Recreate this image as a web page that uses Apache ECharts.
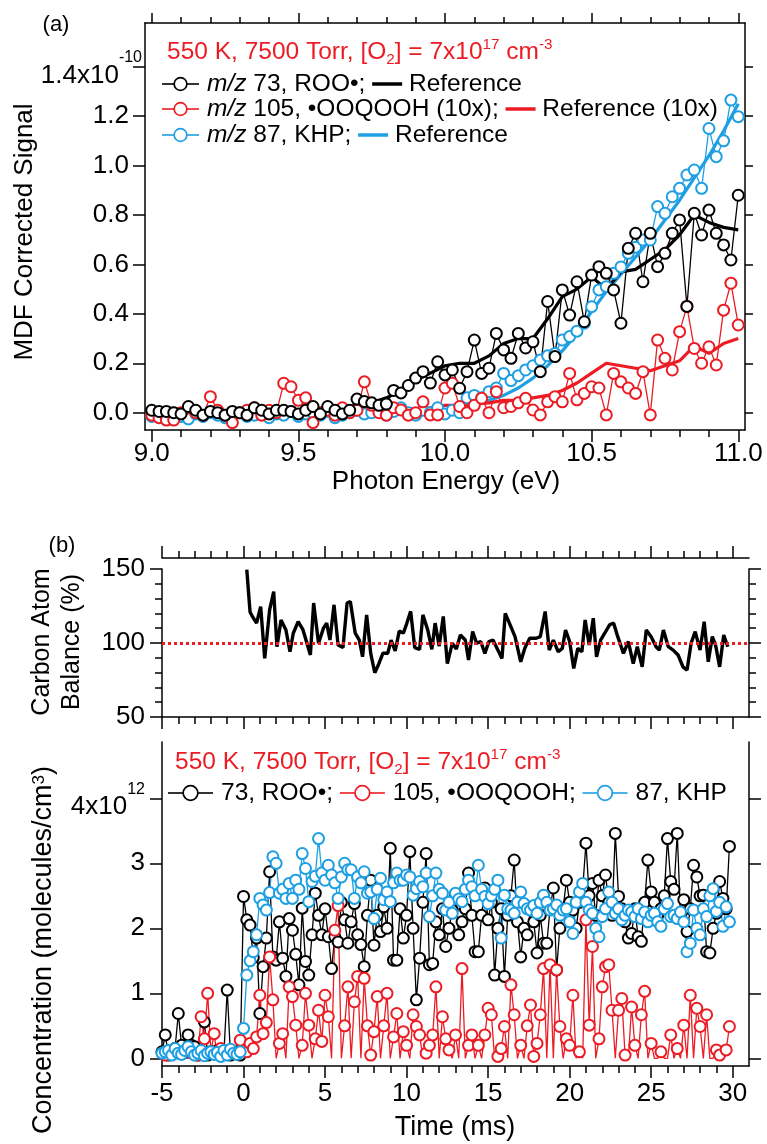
<!DOCTYPE html>
<html>
<head>
<meta charset="utf-8">
<script src="https://cdn.jsdelivr.net/npm/echarts@6/dist/echarts.min.js"></script>
<style>
  html, body { margin: 0; padding: 0; background: #fff; }
  #chart { width: 767px; height: 1144px; }
</style>
</head>
<body>
<div id="chart"></div>
<script>
const FONT = "'Liberation Sans', Arial, sans-serif";
const BLACK = "#000000";
const RED = "#ec1c24";
const BLUE = "#1e9fe3";

// (a) photon-energy scans, 9.0 .. 11.0 eV every 0.025 eV, signal in units of 1e-10
const scanStart = 9.0, scanStep = 0.025;
const sig73 = [
  0.01, 0.005, 0.005, 0.0, -0.005, 0.025, 0.01, -0.01, 0.005, 0.0,
  -0.01, 0.005, 0.0, -0.01, 0.02, 0.01, -0.005, 0.01, 0.01, 0.005,
  -0.005, 0.01, 0.025, -0.005, 0.025, 0.01, -0.005, 0.01, 0.055, 0.045,
  0.04, 0.03, 0.035, 0.09, 0.08, 0.11, 0.14, 0.166, 0.12, 0.206,
  0.153, 0.173, 0.099, 0.166, 0.294, 0.159, 0.18, 0.321, 0.254, 0.22,
  0.321, 0.262, 0.287, 0.166, 0.45, 0.227, 0.497, 0.395, 0.53, 0.368,
  0.557, 0.591, 0.564, 0.497, 0.362, 0.665, 0.726, 0.53, 0.726, 0.591,
  0.645, 0.726, 0.78, 0.43, 0.807, 0.719, 0.82, 0.726, 0.679, 0.618,
  0.88
];
const sig105 = [
  -0.01, -0.02, -0.03, -0.03, 0.0, 0.02, 0.0, -0.01, 0.065, 0.01,
  -0.01, -0.04, 0.0, 0.01, 0.02, -0.01, 0.01, 0.0, 0.119, 0.105,
  0.05, 0.06, -0.04, 0.0, 0.01, -0.01, 0.02, 0.0, 0.01, 0.125,
  0.03, 0.0, -0.01, 0.02, 0.011, -0.01, 0.0, 0.044, -0.009, -0.009,
  0.1, 0.119, 0.025, 0.0, 0.03, 0.058, 0.0, 0.085, 0.02, 0.025,
  0.04, 0.058, 0.011, -0.009, 0.044, 0.065, 0.044, 0.159, 0.052, 0.078,
  0.105, 0.1, -0.009, 0.159, 0.125, 0.1, 0.078, 0.166, -0.009, 0.294,
  0.22, 0.173, 0.328, 0.43, 0.26, 0.2, 0.267, 0.193, 0.415, 0.524,
  0.355
];
const sig87 = [
  -0.015, -0.01, -0.02, 0.0, -0.015, -0.025, -0.005, -0.015, 0.0, -0.01,
  -0.02, -0.005, 0.0, -0.015, -0.01, 0.0, -0.02, -0.005, -0.01, 0.005,
  -0.015, -0.005, 0.0, -0.01, 0.005, -0.02, -0.01, 0.0, 0.01, -0.005,
  0.0, 0.01, -0.01, 0.005, 0.02, 0.0, -0.01, 0.01, 0.0, 0.02,
  -0.005, 0.01, 0.0, 0.06, 0.07, 0.06, 0.085, 0.1, 0.159, 0.13,
  0.15, 0.173, 0.19, 0.213, 0.23, 0.24, 0.294, 0.308, 0.33, 0.362,
  0.429, 0.497, 0.51, 0.564, 0.59, 0.645, 0.67, 0.699, 0.699, 0.834,
  0.807, 0.874, 0.908, 0.962, 0.982, 0.908, 1.15, 1.036, 1.10, 1.265,
  1.198
];
// reference spectra, every 0.05 eV
const refStart = 9.0, refStep = 0.05;
const ref73 = [
  0.0, 0.005, 0.0, 0.01, 0.0, 0.005, 0.0, 0.01, 0.005, 0.01,
  0.01, 0.015, 0.02, 0.02, 0.03, 0.04, 0.06, 0.09, 0.13, 0.16,
  0.19, 0.2, 0.2, 0.23, 0.28, 0.3, 0.3, 0.38, 0.47, 0.5,
  0.55, 0.5, 0.57, 0.58, 0.62, 0.66, 0.72, 0.8, 0.77, 0.75,
  0.74
];
const ref105 = [
  0.0, 0.0, 0.005, 0.0, 0.005, 0.0, 0.005, 0.0, 0.005, 0.01,
  0.005, 0.01, 0.005, 0.01, 0.01, 0.015, 0.01, 0.02, 0.015, 0.02,
  0.03, 0.03, 0.035, 0.04, 0.05, 0.05, 0.06, 0.07, 0.09, 0.12,
  0.16, 0.2, 0.19, 0.18, 0.17, 0.19, 0.21, 0.27, 0.24, 0.28,
  0.3
];
const ref87 = [
  0.0, 0.0, -0.005, 0.0, 0.0, -0.005, 0.0, 0.0, -0.005, 0.0,
  0.0, 0.0, 0.0, 0.005, 0.0, 0.005, 0.005, 0.005, 0.01, 0.01,
  0.01, 0.02, 0.03, 0.05, 0.07, 0.1, 0.14, 0.19, 0.25, 0.32,
  0.41, 0.49, 0.56, 0.63, 0.7, 0.78, 0.86, 0.95, 1.04, 1.14,
  1.25
];

// (b) top: carbon atom balance (%) vs time (ms)
const balTime = [
  0.2, 0.4, 0.55, 0.8, 1.05, 1.3, 1.6, 1.85, 2.05, 2.3, 2.6, 2.85, 3.05, 3.35, 3.65,
  4.1, 4.3, 4.6, 4.9, 5.1, 5.3, 5.55, 5.8, 6.1, 6.35, 6.55, 6.85, 7.1, 7.3, 7.55,
  7.8, 8.05, 8.3, 8.55, 8.85, 9.05, 9.3, 9.55, 9.8, 10.0, 10.25, 10.5, 10.8, 11.0,
  11.3, 11.55, 11.75, 12.0, 12.25, 12.5, 12.8, 13.05, 13.3, 13.6, 13.8, 14.05, 14.3,
  14.55, 14.8, 15.05, 15.3, 15.5, 15.85, 16.05, 16.35, 16.65, 17.0, 17.25, 17.55,
  17.95, 18.2, 18.5, 18.75, 19.0, 19.3, 19.55, 19.75, 20.0, 20.25, 20.5, 20.75,
  20.95, 21.2, 21.45, 21.65, 21.9, 22.15, 22.45, 22.7, 22.95, 23.3, 23.6, 23.9,
  24.15, 24.45, 24.7, 25.0, 25.3, 25.5, 25.75, 26.05, 26.35, 26.65, 26.95, 27.2,
  27.45, 27.7, 28.0, 28.25, 28.5, 28.75, 28.95, 29.2, 29.45, 29.7
];
const balance = [
  149.5, 121, 117.8, 113.4, 124.6, 89.6, 122.4, 134.8, 97.5, 115.6, 108.8, 94.1, 106.6, 114.4, 108.8,
  91.9, 127, 99.8, 110, 113.4, 102, 125.8, 98.6, 96.9, 127, 128, 106.6, 102, 90.7, 119,
  93, 79.9, 86, 93.1, 93.1, 102, 94.6, 108, 106.7, 112.8, 121.4, 96.9, 95.7, 119,
  108.7, 95.7, 113.4, 97.9, 118, 86, 99.8, 96, 105.4, 102, 88.5, 107.7, 99.8,
  101, 93, 101, 102, 97.5, 89.6, 120, 112.2, 104.3, 87.3, 96.4, 103.2,
  103.2, 104.3, 121.3, 95.2, 102, 94.1, 96.4, 108.8, 101, 82.8, 96.4, 94.1,
  115.6, 98.6, 116.8, 90.7, 102, 106.6, 112.3, 113.4, 104.3, 93, 101, 86,
  97.5, 83.9, 108.8, 104.3, 97.5, 95.2, 108.8, 97.5, 95.2, 91.9, 83.9, 81.7,
  99.8, 107.7, 95.2, 114.4, 87.3, 104.3, 98.6, 83.9, 105.4, 97.5
];
const BALANCE_REF = 100;

// (b) bottom: concentrations every 0.2 ms from -5 ms, units of 1e12 molecules/cm3
const timeStart = -5, timeStep = 0.2;
const conc73 = [
  0.1, 0.36, 0.05, 0.1, 0.15, 0.69, 0.2, 0.1, 0.36, 0.2,
  0.18, 0.05, 0.1, 0.56, 0.05, 0.1, 0.08, 0.12, 0.05, 0.1,
  1.05, 0.05, 0.08, 0.1, 0.05,
  2.49, 2.13, 2.05, 1.55, 1.85, 0.69, 1.41, 1.85, 2.87, 1.56,
  1.51, 2.1, 1.54, 1.26, 2.15, 1.97, 1.6, 1.13, 2.31, 1.49,
  1.28, 1.9, 2.54, 2.2, 1.9, 2.3, 1.87, 1.38, 1.87, 1.79,
  2.4, 2.13, 1.77, 2.1, 2.38, 1.9, 1.75, 1.41, 2.2, 2.74,
  1.74, 2.2, 1.95, 2.33, 2.0, 3.23, 1.51, 1.51, 2.3, 1.85,
  2.2, 3.18, 2.0, 0.9, 1.54, 2.4, 3.15, 1.44, 1.46, 2.1,
  1.9, 2.3, 1.72, 2.0, 2.28, 2.5, 1.9, 2.1, 2.3, 2.85,
  2.2, 1.64, 1.64, 2.2, 2.62, 2.13, 2.4, 1.28, 2.0, 2.3,
  1.26, 2.2, 2.5, 3.05, 2.1, 1.56, 2.0, 1.9, 2.3, 2.1,
  1.62, 2.2, 1.77, 1.77, 2.3, 2.62, 1.36, 2.0, 2.3, 2.74,
  2.4, 2.28, 2.0, 2.4, 2.6, 3.31, 2.5, 2.69, 2.2, 2.74,
  2.5, 2.82, 2.4, 2.2, 3.46, 2.49, 2.3, 2.1, 1.85, 1.92,
  2.3, 1.87, 1.8, 2.4, 3.05, 2.56, 2.4, 2.2, 2.3, 2.5,
  3.38, 2.72, 2.6, 3.46, 2.2, 2.44, 1.95, 2.3, 2.97, 2.79,
  2.5, 2.51, 1.64, 1.62, 2.0, 2.23, 2.72, 2.46, 2.3, 3.26
];
// zeros are points at or below the baseline: drawn as line vertices without a marker
const conc105 = [
  0.0, 0.05, 0.0, 0.0, 0.0, 0.0, 0.0, 0.0, 0.0, 0.0,
  0.0, 0.05, 0.64, 0.3, 1.0, 0.1, 0.38, 0.0, 0.15, 0.0,
  0.0, 0.0, 0.0, 0.0, 0.28,
  0.0, 0.1, 0.23, 0.15, 0.33, 0.97, 0.38, 0.55, 1.56, 0.9,
  0.0, 0.23, 0.38, 0.0, 1.1, 0.95, 0.51, 0.0, 0.2, 1.0,
  0.51, 0.0, 0.3, 0.74, 0.26, 0.97, 0.64, 0.0, 1.97, 2.35,
  0.0, 0.5, 1.1, 0.0, 0.87, 1.26, 0.0, 1.23, 0.5, 0.05,
  0.41, 0.95, 0.0, 0.5, 1.0, 0.0, 0.33, 0.69, 0.0, 0.41,
  0.2, 0.0, 0.67, 0.49, 0.36, 0.0, 0.08, 0.2, 0.36, 1.1,
  0.0, 0.64, 0.3, 0.13, 0.0, 0.36, 0.0, 1.38, 0.0, 0.2,
  0.36, 0.0, 0.2, 0.0, 0.36, 0.77, 0.67, 0.0, 0.03, 0.15,
  0.49, 0.0, 1.13, 0.67, 0.0, 0.2, 0.0, 0.5, 0.82, 0.03,
  0.23, 0.67, 1.38, 0.0, 1.44, 0.0, 1.36, 0.49, 0.0, 0.3,
  0.2, 0.97, 0.0, 0.1, 0.0, 2.13, 0.51, 1.72, 0.0, 0.3,
  1.1, 1.41, 1.44, 0.74, 0.0, 0.74, 0.92, 0.05, 0.0, 0.79,
  0.2, 0.0, 0.67, 1.03, 0.0, 0.23, 0.0, 0.0, 0.1, 0.0,
  0.0, 0.36, 0.0, 0.15, 0.0, 0.51, 0.0, 0.97, 0.0, 0.77,
  0.49, 0.0, 0.67, 0.0, 0.0, 0.13, 0.05, 0.0, 0.13, 0.49
];
const conc87 = [
  0.08, 0.1, 0.12, 0.05, 0.15, 0.08, 0.06, 0.12, 0.18, 0.1,
  0.05, 0.08, 0.12, 0.04, 0.08, 0.1, 0.06, 0.09, 0.03, 0.12,
  0.05, 0.14, 0.08, 0.06, 0.1,
  0.46, 1.28, 1.5, 1.64, 1.9, 2.46, 2.36, 2.28, 2.55, 3.1,
  3.0, 2.54, 2.6, 2.46, 2.69, 2.46, 2.74, 2.6, 3.15, 2.92,
  2.41, 2.72, 2.8, 3.38, 2.85, 2.74, 2.97, 2.82, 2.7, 2.46,
  2.79, 3.0, 2.9, 2.9, 2.46, 2.79, 2.7, 2.87, 2.54, 2.56,
  2.15, 2.6, 2.77, 2.44, 2.56, 2.41, 2.7, 2.85, 2.74, 2.74,
  2.82, 2.79, 2.51, 2.61, 2.72, 2.64, 2.85, 2.18, 2.5, 2.85,
  2.6, 2.54, 2.28, 2.4, 2.23, 2.54, 2.45, 2.41, 2.6, 2.74,
  2.64, 2.5, 2.97, 2.6, 2.49, 2.38, 2.5, 2.6, 2.74, 1.85,
  2.51, 2.3, 2.28, 2.23, 2.4, 2.56, 2.38, 2.3, 2.28, 2.35,
  2.23, 2.4, 2.51, 2.4, 2.28, 2.3, 2.36, 2.2, 2.28, 2.3,
  2.1, 1.92, 2.4, 2.56, 2.69, 2.4, 2.28, 2.23, 2.0, 1.87,
  2.18, 2.3, 2.56, 2.4, 2.23, 2.3, 2.13, 2.2, 2.28, 2.25,
  2.18, 2.3, 2.15, 2.25, 2.1, 2.2, 2.23, 2.1, 2.03, 2.3,
  2.38, 2.18, 2.2, 2.15, 2.25, 2.1, 1.64, 1.77, 2.28, 2.0,
  1.9, 2.3, 2.18, 2.5, 2.61, 2.26, 2.4, 2.03, 2.33, 2.1
];

// tick positions
const energyMajor = [9.0, 9.5, 10.0, 10.5, 11.0];
const energyMinor = [9.1, 9.2, 9.3, 9.4, 9.6, 9.7, 9.8, 9.9, 10.1, 10.2, 10.3, 10.4, 10.6, 10.7, 10.8, 10.9];
const signalTicks = [0, 0.2, 0.4, 0.6, 0.8, 1.0, 1.2, 1.4];
const timeMajor = [-5, 0, 5, 10, 15, 20, 25, 30];
const timeMinor = [-4, -3, -2, -1, 1, 2, 3, 4, 6, 7, 8, 9, 11, 12, 13, 14, 16, 17, 18, 19, 21, 22, 23, 24, 26, 27, 28, 29];
const balanceMajor = [50, 100, 150];
const balanceMinor = [60, 70, 80, 90, 110, 120, 130, 140];
const concTicks = [0, 1, 2, 3, 4];

const sampled = (start, step, values) => values.map((v, i) => [+(start + i * step).toFixed(3), v]);
// baseline points keep their line vertex but lose the marker
const hideBaseline = (pts) => pts.map((p) => (p[1] <= 0 ? { value: p, symbol: "none" } : p));

const LINE = { show: true, onZero: false, lineStyle: { color: BLACK, width: 1.5 } };
const NO_LINE = { show: false, onZero: false };
const LABEL_SIZE = 26;

function axis(o) {
  return {
    type: "value",
    gridIndex: o.grid,
    position: o.pos,
    min: o.min,
    max: o.max,
    offset: o.offset || 0,
    axisLine: o.line ? LINE : NO_LINE,
    axisTick: o.ticks
      ? { show: true, inside: false, length: o.len, customValues: o.ticks, lineStyle: { color: BLACK, width: 1.5 } }
      : { show: false },
    axisLabel: o.labels
      ? {
          show: true, customValues: o.labels, margin: o.margin, color: BLACK,
          fontFamily: FONT, fontSize: LABEL_SIZE, formatter: o.fmt, rich: o.rich,
        }
      : { show: false },
    splitLine: { show: false },
    minorTick: { show: false },
  };
}

const supRich = {
  m: { fontFamily: FONT, fontSize: LABEL_SIZE, color: BLACK, padding: [18, 0, 0, 0] },
  s: { fontFamily: FONT, fontSize: 16, color: BLACK, verticalAlign: "top", padding: [5, 0, 0, 0] },
};

const E = [8.977, 11.023];
const T = [-5, 31];

const xAxis = [
  axis({ grid: 0, pos: "bottom", min: E[0], max: E[1], line: true, ticks: energyMajor, len: 12,
         labels: energyMajor, margin: 11, fmt: (v) => v.toFixed(1) }),
  axis({ grid: 0, pos: "bottom", min: E[0], max: E[1], ticks: energyMinor, len: 7 }),
  axis({ grid: 0, pos: "top", min: E[0], max: E[1], line: true, ticks: energyMajor, len: 10 }),
  axis({ grid: 0, pos: "top", min: E[0], max: E[1], ticks: energyMinor, len: 6 }),
  axis({ grid: 1, pos: "bottom", min: T[0], max: T[1], line: true, ticks: timeMajor, len: 12 }),
  axis({ grid: 1, pos: "bottom", min: T[0], max: T[1], ticks: timeMinor, len: 7 }),
  axis({ grid: 1, pos: "top", offset: 11, min: T[0], max: T[1], line: true, ticks: timeMajor, len: 12 }),
  axis({ grid: 1, pos: "top", offset: 11, min: T[0], max: T[1], ticks: timeMinor, len: 7 }),
  axis({ grid: 2, pos: "bottom", min: T[0], max: T[1], line: true, ticks: timeMajor, len: 12,
         labels: timeMajor, margin: 15, fmt: (v) => String(v) }),
  axis({ grid: 2, pos: "bottom", min: T[0], max: T[1], ticks: timeMinor, len: 7 }),
];

const yAxis = [
  axis({ grid: 0, pos: "left", min: -0.07, max: 1.577, line: true, ticks: signalTicks, len: 12,
         labels: signalTicks.slice(0, 7), margin: 16, fmt: (v) => v.toFixed(1) }),
  axis({ grid: 0, pos: "left", min: -0.07, max: 1.577, labels: [1.4], margin: 3,
         fmt: () => "{m|1.4x10}{s|-10}", rich: supRich }),
  axis({ grid: 0, pos: "right", min: -0.07, max: 1.577, line: true, ticks: signalTicks, len: 8 }),
  axis({ grid: 1, pos: "left", min: 50, max: 150, line: true, ticks: balanceMajor, len: 12,
         labels: balanceMajor, margin: 17, fmt: (v) => String(v) }),
  axis({ grid: 1, pos: "left", min: 50, max: 150, ticks: balanceMinor, len: 7 }),
  axis({ grid: 1, pos: "right", min: 50, max: 150, line: true, ticks: balanceMajor, len: 12 }),
  axis({ grid: 1, pos: "right", min: 50, max: 150, ticks: balanceMinor, len: 7 }),
  axis({ grid: 2, pos: "left", min: -0.118, max: 4.866, line: true, ticks: concTicks, len: 12,
         labels: concTicks, margin: 17, rich: supRich,
         fmt: (v) => (v === 4 ? "{m|4x10}{s|12}" : String(v)) }),
  axis({ grid: 2, pos: "right", min: -0.118, max: 4.866, line: true, ticks: concTicks, len: 12 }),
];

function markers(name, color, data, xi, yi) {
  return {
    name, type: "line", xAxisIndex: xi, yAxisIndex: yi, data,
    symbol: "emptyCircle", symbolSize: 11, showAllSymbol: true,
    itemStyle: { color, borderColor: color, borderWidth: 1.7 },
    lineStyle: { color, width: 1.3 },
    emphasis: { disabled: true },
  };
}
function refLine(name, color, data) {
  return {
    name, type: "line", xAxisIndex: 0, yAxisIndex: 0, data,
    symbol: "none", lineStyle: { color, width: 3.2 }, emphasis: { disabled: true },
  };
}

const series = [
  markers("m/z 87, KHP", BLUE, sampled(scanStart, scanStep, sig87), 0, 0),
  markers("m/z 105, OOQOOH (10x)", RED, sampled(scanStart, scanStep, sig105), 0, 0),
  markers("m/z 73, ROO", BLACK, sampled(scanStart, scanStep, sig73), 0, 0),
  refLine("Reference 87", BLUE, sampled(refStart, refStep, ref87)),
  refLine("Reference 105 (10x)", RED, sampled(refStart, refStep, ref105)),
  refLine("Reference 73", BLACK, sampled(refStart, refStep, ref73)),
  {
    name: "Carbon atom balance", type: "line", xAxisIndex: 4, yAxisIndex: 3,
    data: balTime.map((t, i) => [t, balance[i]]),
    symbol: "none", lineStyle: { color: BLACK, width: 3.4 },
    markLine: {
      silent: true, symbol: "none", label: { show: false }, animation: false,
      lineStyle: { color: RED, type: [3, 3], width: 3.2 },
      data: [{ yAxis: BALANCE_REF }],
    },
  },
  markers("73, ROO", BLACK, sampled(timeStart, timeStep, conc73), 8, 7),
  markers("105, OOQOOH", RED, hideBaseline(sampled(timeStart, timeStep, conc105)), 8, 7),
  markers("87, KHP", BLUE, sampled(timeStart, timeStep, conc87), 8, 7),
];

// legend / annotation text (rich tokens draw the little line and circle keys)
function keyRich(size, lineW, circ, refW) {
  const r = {
    t: { fontFamily: FONT, fontSize: size, fill: BLACK, lineHeight: 30 },
    it: { fontFamily: FONT, fontSize: size, fill: BLACK, fontStyle: "italic", lineHeight: 30 },
    sup: { fontFamily: FONT, fontSize: size * 0.62, fill: RED, verticalAlign: "top", lineHeight: 9 },
    sub: { fontFamily: FONT, fontSize: size * 0.62, fill: RED, verticalAlign: "bottom", lineHeight: 12 },
    tr: { fontFamily: FONT, fontSize: size, fill: RED, lineHeight: 30 },
    sp: { width: 8, height: 2 },
  };
  [["k", BLACK], ["r", RED], ["b", BLUE]].forEach(([k, c]) => {
    r["l" + k] = { width: lineW, height: 1.6, backgroundColor: c, verticalAlign: "middle" };
    r["c" + k] = { width: circ, height: circ, borderRadius: circ, borderWidth: 1.7, borderColor: c,
                   backgroundColor: "#fff", verticalAlign: "middle" };
    r["w" + k] = { width: refW, height: 3.5, backgroundColor: c, verticalAlign: "middle" };
  });
  return r;
}
const richA = keyRich(24.5, 13, 11, 30);
const richB = keyRich(24.5, 16, 13, 30);
const condText = "{tr|550 K, 7500 Torr, [O}{sub|2}{tr|] = 7x10}{sup|17}{tr| cm}{sup|-3}";

function txt(x, y, text, opt = {}) {
  return {
    type: "text", x, y, rotation: opt.rot || 0, silent: true,
    style: {
      text, x: 0, y: 0, fill: opt.fill || BLACK, fontFamily: FONT, fontSize: opt.size || 26,
      align: opt.align || "center", verticalAlign: "middle", rich: opt.rich,
    },
  };
}

const graphic = [
  txt(56, 25, "(a)", { size: 22 }),
  txt(62, 546, "(b)", { size: 22 }),
  txt(25, 232, "MDF Corrected Signal", { rot: Math.PI / 2 }),
  txt(446, 482, "Photon Energy (eV)"),
  txt(42, 642, "Carbon Atom", { rot: Math.PI / 2, size: 25 }),
  txt(72, 642, "Balance (%)", { rot: Math.PI / 2, size: 25 }),
  txt(44, 950, "Concentration (molecules/cm{s|3})", {
    rot: Math.PI / 2, size: 27,
    rich: { s: { fontFamily: FONT, fontSize: 17, fill: BLACK, verticalAlign: "top", lineHeight: 10 } },
  }),
  txt(455, 1128, "Time (ms)", { size: 27 }),
  txt(167, 52, condText, { align: "left", rich: richA }),
  txt(162, 84, "{lk|}{ck|}{lk|}{sp|}{it|m/z}{t| 73, ROO\u2022; }{wk|}{t| Reference}", { align: "left", rich: richA }),
  txt(162, 109, "{lr|}{cr|}{lr|}{sp|}{it|m/z}{t| 105, \u2022OOQOOH (10x); }{wr|}{t| Reference (10x)}", { align: "left", rich: richA }),
  txt(162, 135, "{lb|}{cb|}{lb|}{sp|}{it|m/z}{t| 87, KHP; }{wb|}{t| Reference}", { align: "left", rich: richA }),
  txt(175, 762, condText, { align: "left", rich: richB }),
  txt(168, 793, "{lk|}{ck|}{lk|}{sp|}{t|73, ROO\u2022; }{lr|}{cr|}{lr|}{sp|}{t|105, \u2022OOQOOH; }{lb|}{cb|}{lb|}{sp|}{t|87, KHP}", { align: "left", rich: richB }),
];

const chart = echarts.init(document.getElementById("chart"));
chart.setOption({
  animation: false,
  backgroundColor: "#ffffff",
  grid: [
    { left: 145, top: 23, width: 600, height: 407, outerBoundsMode: "none" },
    { left: 162, top: 569, width: 587, height: 148, outerBoundsMode: "none" },
    { left: 162, top: 742, width: 587, height: 324, outerBoundsMode: "none" },
  ],
  xAxis,
  yAxis,
  series,
  graphic,
});
</script>
</body>
</html>
